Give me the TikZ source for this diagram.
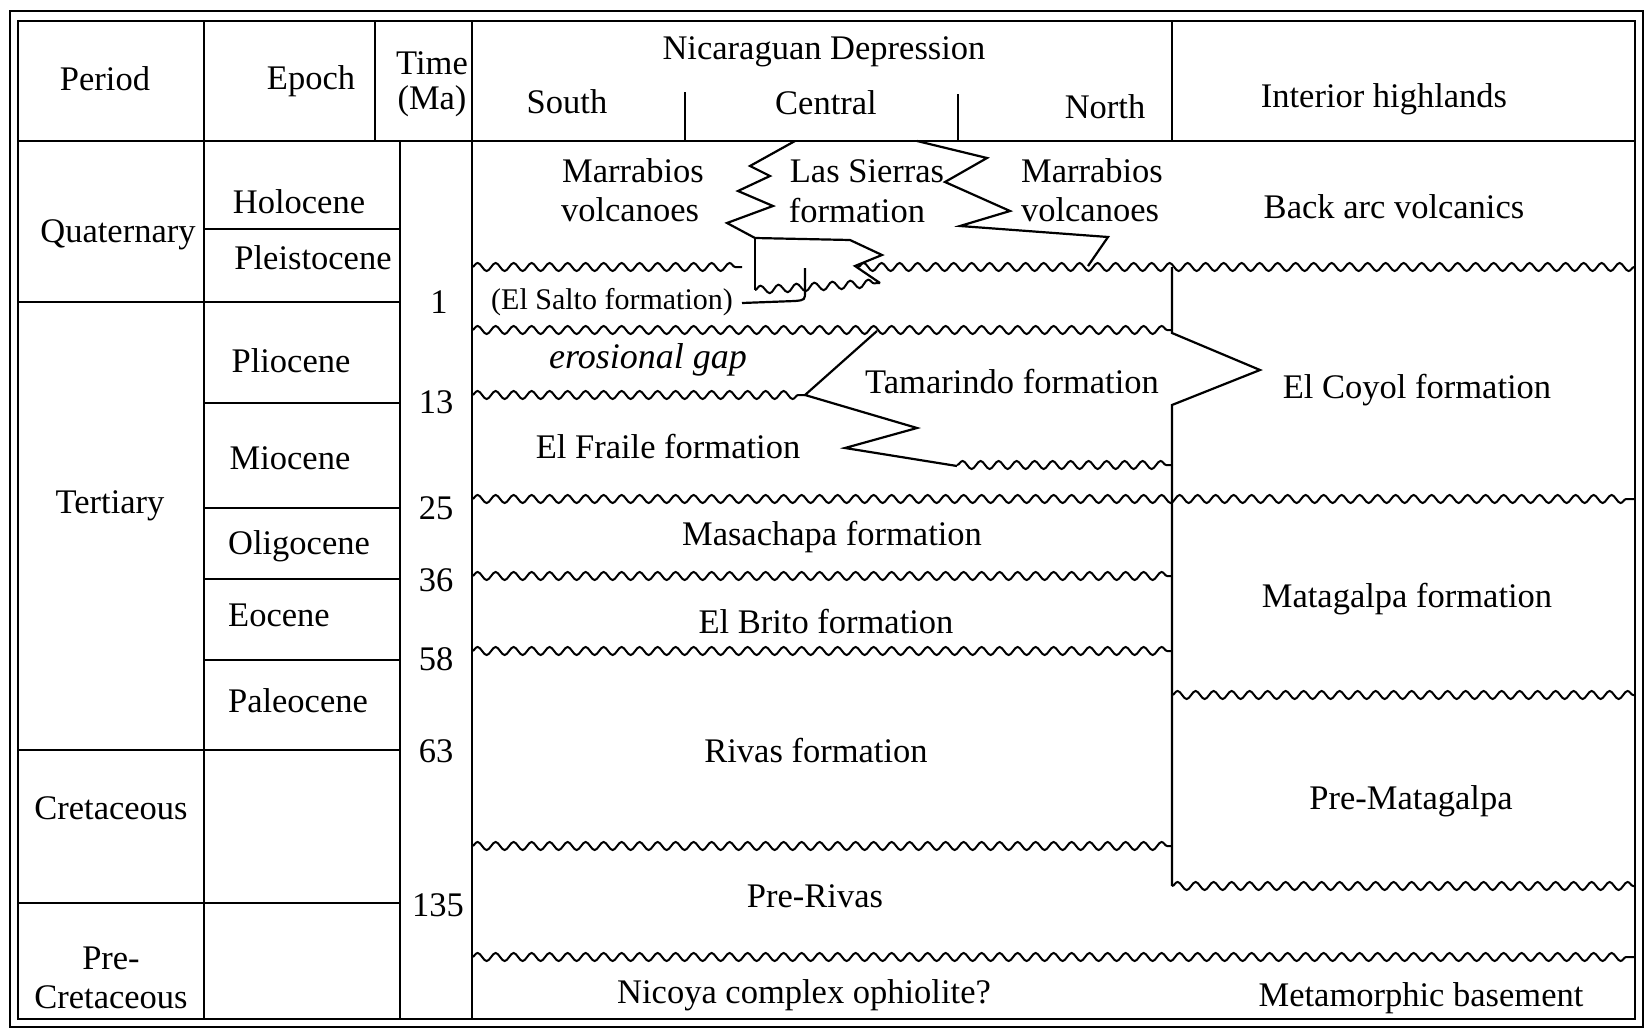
\documentclass[tikz,border=0pt]{standalone}
\usepackage{fontspec}
\setmainfont{Liberation Serif}
\usetikzlibrary{decorations.pathmorphing}
\begin{document}
\begin{tikzpicture}[x=0.5pt,y=-0.5pt,
  rule/.style={line width=1.2pt},
  frame/.style={line width=1.4pt},
  zig/.style={line width=1.1pt, line join=miter},
  wavy/.style={line width=1pt, decorate, decoration={snake, segment length=9pt, amplitude=2pt}},
  lbl/.style={inner sep=0pt, font=\fontsize{17.25}{20}\selectfont},
  small/.style={inner sep=0pt, font=\fontsize{15}{18}\selectfont},
  ital/.style={inner sep=0pt, font=\fontsize{18}{20}\selectfont\itshape}]
\useasboundingbox (0,0) rectangle (1646,1033);
\fill[white] (0,0) rectangle (1646,1033);

% frames
\draw[frame] (10,11) rectangle (1643,1027);
\draw[rule] (18,21) rectangle (1635,1019);

% header bottom and verticals
\draw[rule] (18,141) -- (1635,141);
\draw[rule] (204,21) -- (204,1019);
\draw[rule] (375,21) -- (375,141);
\draw[rule] (400,141) -- (400,1019);
\draw[rule] (472,21) -- (472,1019);
\draw[rule] (1172,21) -- (1172,141);
\draw[rule] (685,92) -- (685,141);
\draw[rule] (958,94) -- (958,141);

% period / epoch rows
\draw[rule] (204,229) -- (400,229);
\draw[rule] (18,302) -- (400,302);
\draw[rule] (204,403) -- (400,403);
\draw[rule] (204,508) -- (400,508);
\draw[rule] (204,579) -- (400,579);
\draw[rule] (204,660) -- (400,660);
\draw[rule] (18,750) -- (400,750);
\draw[rule] (18,903) -- (400,903);

% depression / interior boundary with Tamarindo tongue
\draw[zig] (1172,267) -- (1172,333) -- (1260,370) -- (1172,405) -- (1172,886);

% unconformities
\draw[wavy] (472,267) -- (742,267);
\draw[wavy] (858,267) -- (1635,267);
\draw[wavy] (472,330) -- (1172,330);
\draw[wavy] (472,395) -- (805,395);
\draw[wavy] (957,465) -- (1172,465);
\draw[wavy] (472,499) -- (1635,499);
\draw[wavy] (472,576) -- (1172,576);
\draw[wavy] (472,651) -- (1172,651);
\draw[wavy] (1172,695) -- (1635,695);
\draw[wavy] (472,846) -- (1172,846);
\draw[wavy] (1172,886) -- (1635,886);
\draw[wavy] (472,957) -- (1635,957);
\draw[wavy] (755,290) -- (880,283);

% Las Sierras intertonguing
\draw[zig] (795,141) -- (750,166) -- (770,176) -- (738,191) -- (773,206) -- (727,223) -- (755,238)
  -- (850,240) -- (882,255) -- (855,266) -- (880,283);
\draw[zig] (755,238) -- (755,290);
\draw[zig] (805,268) -- (805,291) .. controls (805,300) .. (795,301) -- (742,303);
\draw[zig] (917,141) -- (987,158) -- (945,182) -- (1010,211) -- (960,226) -- (1108,237) -- (1088,266);

% Tamarindo intertonguing
\draw[zig] (877,331) -- (805,395) -- (917,428) -- (845,448) -- (957,466);

% header text
\node[lbl] (period) at (105,79) {Period};
\node[lbl] (epoch) at (311,81) {Epoch};
\node[lbl] (time) at (432,63) {Time};
\node[lbl] (ma) at (432,101) {(Ma)};
\node[lbl] (nicdep) at (824,52) {Nicaraguan Depression};
\node[lbl] (south) at (567,102) {South};
\node[lbl] (central) at (826,103) {Central};
\node[lbl] (north) at (1105,107) {North};
\node[lbl] (interior) at (1384,99) {Interior highlands};

% periods
\node[lbl] (quaternary) at (118,235) {Quaternary};
\node[lbl] (tertiary) at (110,506) {Tertiary};
\node[lbl] (cretaceous) at (111,808) {Cretaceous};
\node[lbl] (precretA) at (111,958) {Pre-};
\node[lbl] (precretB) at (111,997) {Cretaceous};

% epochs
\node[lbl] (holocene) at (299,202) {Holocene};
\node[lbl] (pleistocene) at (313,258) {Pleistocene};
\node[lbl] (pliocene) at (291,361) {Pliocene};
\node[lbl] (miocene) at (290,458) {Miocene};
\node[lbl] (oligocene) at (299,546) {Oligocene};
\node[lbl] (eocene) at (279,615) {Eocene};
\node[lbl] (paleocene) at (298,701) {Paleocene};

% ages
\node[lbl] (t1) at (439,302) {1};
\node[lbl] (t13) at (436,402) {13};
\node[lbl] (t25) at (436,508) {25};
\node[lbl] (t36) at (436,580) {36};
\node[lbl] (t58) at (436,659) {58};
\node[lbl] (t63) at (436,751) {63};
\node[lbl] (t135) at (438,905) {135};

% formations
\node[lbl] (marrA1) at (633,171) {Marrabios};
\node[lbl] (marrA2) at (630,210) {volcanoes};
\node[lbl] (sierras1) at (867,171) {Las Sierras};
\node[lbl] (sierras2) at (857,211) {formation};
\node[lbl] (marrB1) at (1092,171) {Marrabios};
\node[lbl] (marrB2) at (1090,210) {volcanoes};
\node[lbl] (backarc) at (1394,207) {Back arc volcanics};
\node[small] (elsalto) at (612,302) {(El Salto formation)};
\node[ital] (erosion) at (648,360) {erosional gap};
\node[lbl] (tamarindo) at (1012,382) {Tamarindo formation};
\node[lbl] (elcoyol) at (1417,390) {El Coyol formation};
\node[lbl] (elfraile) at (668,447) {El Fraile formation};
\node[lbl] (masachapa) at (832,537) {Masachapa formation};
\node[lbl] (elbrito) at (826,622) {El Brito formation};
\node[lbl] (matagalpa) at (1407,599) {Matagalpa formation};
\node[lbl] (rivas) at (816,751) {Rivas formation};
\node[lbl] (prematagalpa) at (1411,801) {Pre-Matagalpa};
\node[lbl] (prerivas) at (815,896) {Pre-Rivas};
\node[lbl] (nicoya) at (804,995) {Nicoya complex ophiolite?};
\node[lbl] (metamorphic) at (1421,998) {Metamorphic basement};
\end{tikzpicture}
\end{document}
